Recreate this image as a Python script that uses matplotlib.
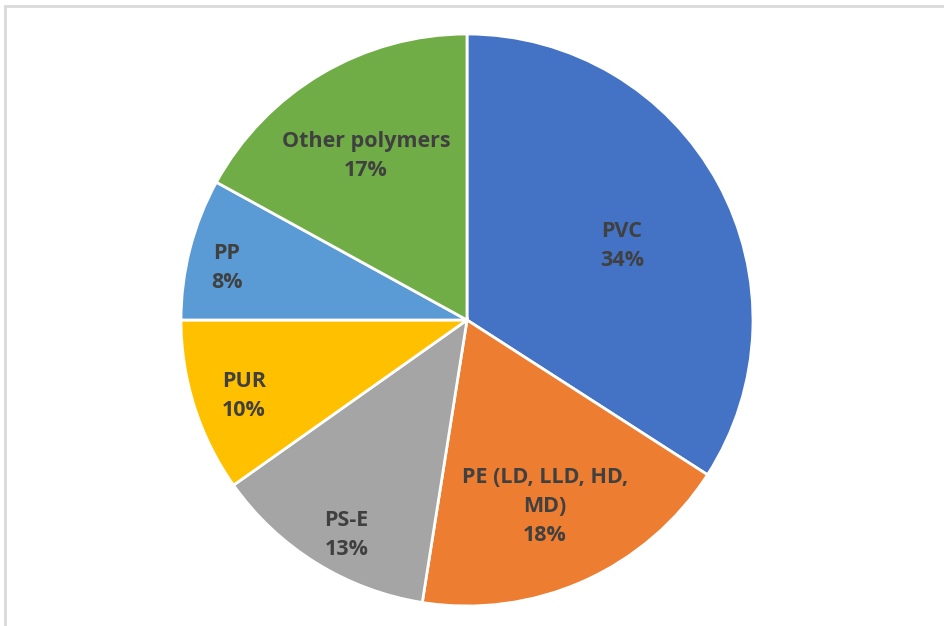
import numpy as np
import matplotlib
matplotlib.use('Agg')
from matplotlib import pyplot as plt, patches

labels = ['PVC', 'PE (LD, LLD, HD,\nMD)', 'PS-E', 'PUR', 'PP', 'Other polymers']
shares = [34.1, 18.4, 12.7, 9.8, 8.0, 17.0]
colors = ['#4472C4', '#ED7D31', '#A5A5A5', '#FFC000', '#5B9BD5', '#70AD47']
# label placement: radius fraction and angle tweak (deg) from the wedge middle
label_r = [0.605, 0.695, 0.853, 0.819, 0.861, 0.685]
label_dang = [-2.2, -1.0, 2.2, 0.3, 1.5, 0.4]

W, H = 945, 626
fig = plt.figure(figsize=(W / 100, H / 100), dpi=100)

# light frame, only top and left edges visible
fig.add_artist(patches.Rectangle(
    (5.5 / W, -0.1), 2.0, 1 - 5.5 / H + 0.1,
    transform=fig.transFigure, fill=False, edgecolor='#d9d9d9', linewidth=2
))

cx, cy, r = 467, 320, 286
ax = fig.add_axes([(cx - r) / W, (H - cy - r) / H, 2 * r / W, 2 * r / H])

wedges, _ = ax.pie(
    shares, colors=colors, startangle=90, counterclock=False,
    wedgeprops=dict(edgecolor='white', linewidth=2)
)

for w, lab, share, lr, da in zip(wedges, labels, shares, label_r, label_dang):
    mid = np.deg2rad((w.theta1 + w.theta2) / 2 + da)
    ax.text(
        lr * np.cos(mid), lr * np.sin(mid) - 0.012, f'{lab}\n{round(share)}%',
        ha='center', va='center', fontsize=15.5, fontweight='bold',
        color='#404040', family='Open Sans', linespacing=1.5
    )

ax.set_xlim(-1, 1)
ax.set_ylim(-1, 1)
ax.set_aspect('equal')
ax.axis('off')

plt.savefig('out.png', dpi=100)
